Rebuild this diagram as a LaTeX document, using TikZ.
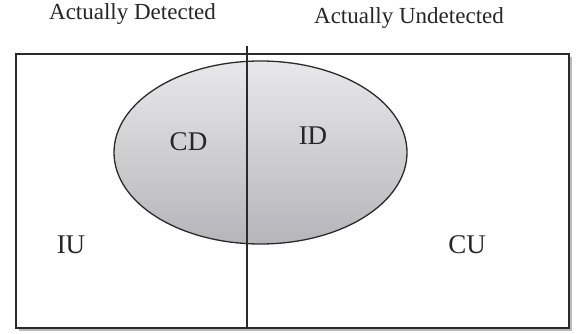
\documentclass[tikz,border=0pt]{standalone}
\usepackage{fontspec}
\setmainfont{Liberation Serif}
\usetikzlibrary{shadows,shapes.geometric}
\definecolor{edge}{HTML}{2A2A2A}
\definecolor{topgray}{HTML}{E8E8EA}
\definecolor{botgray}{HTML}{B6B6BA}
\tikzset{
  frame/.style={draw=edge, line width=2pt, fill=white,
    drop shadow={shadow xshift=3pt, shadow yshift=-3pt, opacity=0.45, fill=black!60}},
  region/.style={draw=edge, line width=1.3pt, top color=topgray, bottom color=botgray},
  divider/.style={draw=edge, line width=1.5pt},
  lbl/.style={font=\fontsize{27}{30}\selectfont, text=black!85, anchor=base, inner sep=0pt},
  head/.style={font=\fontsize{23}{26}\selectfont, text=black!85, anchor=base, inner sep=0pt}
}
\begin{document}
\begin{tikzpicture}[x=1pt,y=-1pt]
  \useasboundingbox (0,0) rectangle (576,334);
  % outer frame with its shadow
  \node[frame, minimum width=553pt, minimum height=274pt, inner sep=0pt, anchor=north west] (box) at (15,53) {};
  % shaded ellipse
  \node[region, ellipse, minimum width=293pt, minimum height=183pt, inner sep=0pt] (oval) at (260.5,152.5) {};
  % dividing line between the two columns
  \coordinate (ltop) at (247,46);
  \coordinate (lbot) at (247,327);
  \draw[divider] (ltop) -- (lbot);
  % column headings
  \node[head] (hd) at (132.5,19.5) {Actually Detected};
  \node[head] (hu) at (409,24) {Actually Undetected};
  % region labels
  \node[lbl] (cd) at (188.5,151) {CD};
  \node[lbl] (id) at (313,145) {ID};
  \node[lbl] (iu) at (71,253) {IU};
  \node[lbl] (cu) at (467,253) {CU};
\end{tikzpicture}
\end{document}
